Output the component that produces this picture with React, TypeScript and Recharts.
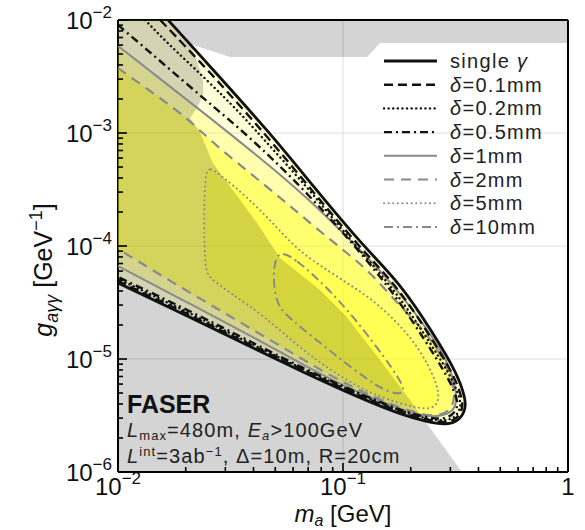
import React from "react";
import { ScatterChart, Scatter, XAxis, YAxis, ReferenceLine } from "recharts";

if (typeof document !== "undefined") document.body.style.margin = "0";

type Pt = [number, number]; // [m_a in GeV, g in GeV^-1]

// contours (open curves run from the top/left edge round the tip back to the left edge)
const singleGamma: Pt[] = [
  [0.0167, 1e-2], [0.027, 3.47e-3], [0.0474, 1.0e-3], [0.0736, 3.4e-4], [0.1227, 1.0e-4],
  [0.1792, 4.71e-5], [0.2512, 1.7e-5], [0.3211, 7.52e-6], [0.3485, 4.61e-6], [0.3521, 3.68e-6],
  [0.3311, 2.88e-6], [0.2899, 2.6e-6], [0.2362, 2.77e-6], [0.1792, 3.26e-6], [0.1318, 4.16e-6],
  [0.097, 5.43e-6], [0.0692, 7.37e-6], [0.0415, 1.2e-5], [0.0209, 2.35e-5], [0.01, 4.71e-5],
];
const delta01: Pt[] = [
  [0.0154, 1e-2], [0.0256, 3.47e-3], [0.0455, 9.6e-4], [0.0713, 3.26e-4], [0.119, 9.6e-5],
  [0.1756, 4.34e-5], [0.2436, 1.6e-5], [0.3114, 7.22e-6], [0.338, 4.52e-6], [0.3415, 3.68e-6],
  [0.3211, 2.94e-6], [0.2869, 2.71e-6], [0.2362, 2.88e-6], [0.1792, 3.4e-6], [0.1318, 4.34e-6],
  [0.097, 5.65e-6], [0.0692, 7.67e-6], [0.0415, 1.25e-5], [0.0209, 2.45e-5], [0.01, 4.9e-5],
];
const delta02: Pt[] = [
  [0.0132, 1e-2], [0.0162, 6.52e-3], [0.0251, 2.89e-3], [0.0349, 1.5e-3], [0.0419, 1.0e-3],
  [0.0713, 3.13e-4], [0.1154, 9.6e-5], [0.1703, 4.08e-5], [0.2362, 1.53e-5], [0.302, 7.07e-6],
  [0.3311, 4.52e-6], [0.3345, 3.68e-6], [0.3146, 3.01e-6], [0.284, 2.83e-6], [0.2362, 2.94e-6],
  [0.1792, 3.47e-6], [0.1318, 4.43e-6], [0.097, 5.77e-6], [0.0692, 7.83e-6], [0.0415, 1.28e-5],
  [0.0209, 2.55e-5], [0.01, 5.11e-5],
];
const delta05: Pt[] = [
  [0.01, 9.03e-3], [0.0135, 5.43e-3], [0.0193, 2.94e-3], [0.027, 1.66e-3], [0.0367, 1.0e-3],
  [0.0644, 3.47e-4], [0.1131, 1.0e-4], [0.1668, 3.92e-5], [0.2314, 1.47e-5], [0.2929, 6.93e-6],
  [0.3211, 4.52e-6], [0.3244, 3.76e-6], [0.3051, 3.13e-6], [0.2754, 2.94e-6], [0.2362, 3.01e-6],
  [0.1792, 3.54e-6], [0.1318, 4.52e-6], [0.097, 5.89e-6], [0.0692, 7.99e-6], [0.0415, 1.33e-5],
  [0.0209, 2.66e-5], [0.01, 5.32e-5],
];
const delta1: Pt[] = [
  [0.01, 5.89e-3], [0.0209, 1.88e-3], [0.0441, 5.77e-4], [0.0713, 2.55e-4], [0.1074, 1.13e-4],
  [0.1461, 6.13e-5], [0.1886, 3.33e-5], [0.2436, 1.7e-5], [0.2929, 9.41e-6], [0.3146, 5.89e-6],
  [0.3211, 4.25e-6], [0.3082, 3.4e-6], [0.2726, 3.13e-6], [0.2362, 3.07e-6], [0.1792, 3.61e-6],
  [0.1318, 4.61e-6], [0.097, 6.01e-6], [0.0692, 8.49e-6], [0.0415, 1.5e-5], [0.0209, 3.07e-5],
  [0.01, 6.65e-5],
];
const delta2: Pt[] = [
  [0.01, 3.76e-3], [0.0139, 2.35e-3], [0.0199, 1.41e-3], [0.0264, 8.16e-4], [0.0386, 4.43e-4],
  [0.0541, 2.55e-4], [0.0664, 1.81e-4], [0.0849, 1.2e-4], [0.1042, 8.67e-5], [0.1318, 5.89e-5],
  [0.1738, 3.13e-5], [0.2362, 1.7e-5], [0.2811, 9.8e-6], [0.3082, 6.26e-6], [0.3146, 4.43e-6],
  [0.2989, 3.47e-6], [0.2698, 3.19e-6], [0.2362, 3.13e-6], [0.1792, 3.68e-6], [0.1318, 4.8e-6],
  [0.097, 6.39e-6], [0.0692, 9.41e-6], [0.0415, 1.73e-5], [0.0209, 3.84e-5], [0.01, 9.41e-5],
];
// closed loops
const delta5: Pt[] = [
  [0.0241, 4.52e-4], [0.0256, 5.0e-4], [0.0293, 4.08e-4], [0.0374, 2.71e-4], [0.0489, 1.6e-4],
  [0.0625, 9.22e-5], [0.0875, 5.89e-5], [0.1131, 4.25e-5], [0.1416, 3.13e-5], [0.1986, 1.63e-5],
  [0.2436, 8.49e-6], [0.2698, 5.0e-6], [0.2617, 3.84e-6], [0.2362, 3.54e-6], [0.1792, 4.0e-6],
  [0.1279, 5.11e-6], [0.0903, 7.67e-6], [0.0644, 1.25e-5], [0.0441, 2.45e-5], [0.0315, 3.84e-5],
  [0.0256, 5.21e-5], [0.0241, 6.13e-5],
];
const delta10: Pt[] = [
  [0.0489, 9.8e-5], [0.0612, 7.83e-5], [0.0875, 4.08e-5], [0.119, 2.0e-5], [0.1537, 1.02e-5],
  [0.1792, 6.52e-6], [0.1886, 5.21e-6], [0.1756, 4.8e-6], [0.1461, 5.54e-6], [0.1279, 6.65e-6],
  [0.097, 1.0e-5], [0.0815, 1.33e-5], [0.0644, 1.92e-5], [0.0582, 2.31e-5], [0.0489, 3.13e-5],
];
// excluded region (grey, drawn see-through over the yellow)
const excluded: Pt[] = [
  [0.01, 1e-2], [1, 1e-2], [1, 6.26e-3], [0.1461, 6.26e-3], [0.1279, 4.71e-3], [0.0315, 4.71e-3],
  [0.0209, 6.13e-3], [0.0224, 4.43e-3], [0.0239, 2.89e-3], [0.0239, 2.17e-3], [0.0224, 1.66e-3],
  [0.0209, 1.36e-3], [0.0231, 1.02e-3], [0.0264, 5.43e-4], [0.0331, 2.94e-4], [0.0415, 1.6e-4],
  [0.0525, 7.83e-5], [0.079, 4.08e-5], [0.1021, 2.45e-5], [0.1461, 9.8e-6], [0.1986, 4.34e-6],
  [0.2436, 2.45e-6], [0.338, 1e-6], [0.01, 1e-6],
];

const xTicks = [
  0.01, 0.02, 0.03, 0.04, 0.05, 0.06, 0.07, 0.08, 0.09,
  0.1, 0.2, 0.3, 0.4, 0.5, 0.6, 0.7, 0.8, 0.9, 1,
];
const yTicks = [
  1e-6, 2e-6, 3e-6, 4e-6, 5e-6, 6e-6, 7e-6, 8e-6, 9e-6,
  1e-5, 2e-5, 3e-5, 4e-5, 5e-5, 6e-5, 7e-5, 8e-5, 9e-5,
  1e-4, 2e-4, 3e-4, 4e-4, 5e-4, 6e-4, 7e-4, 8e-4, 9e-4,
  1e-3, 2e-3, 3e-3, 4e-3, 5e-3, 6e-3, 7e-3, 8e-3, 9e-3, 1e-2,
];
const gridX = [0.1];
const gridY = [1e-3, 1e-4, 1e-5];

const contours = [
  { id: "single", label: "single γ", pts: singleGamma, open: true },
  { id: "d01", label: "δ=0.1mm", pts: delta01, open: true },
  { id: "d02", label: "δ=0.2mm", pts: delta02, open: true },
  { id: "d05", label: "δ=0.5mm", pts: delta05, open: true },
  { id: "d1", label: "δ=1mm", pts: delta1, open: true },
  { id: "d2", label: "δ=2mm", pts: delta2, open: true },
  { id: "d5", label: "δ=5mm", pts: delta5, open: false },
  { id: "d10", label: "δ=10mm", pts: delta10, open: false },
];

const BLACK = "#111";
const GREY = "#8a8a8a";
const lineStyle: Record<string, any> = {
  single: { stroke: BLACK, strokeWidth: 2.8 },
  d01: { stroke: BLACK, strokeWidth: 2.4, strokeDasharray: "9 5" },
  d02: { stroke: BLACK, strokeWidth: 2.4, strokeDasharray: "0.1 4.5", strokeLinecap: "round" },
  d05: { stroke: BLACK, strokeWidth: 2.4, strokeDasharray: "8 4 2 4" },
  d1: { stroke: GREY, strokeWidth: 2 },
  d2: { stroke: GREY, strokeWidth: 2.2, strokeDasharray: "10 7" },
  d5: { stroke: GREY, strokeWidth: 2, strokeDasharray: "0.1 4.5", strokeLinecap: "round" },
  d10: { stroke: GREY, strokeWidth: 2, strokeDasharray: "9 4 2 4" },
};
const fillOpacity: Record<string, number> = { single: 0.15, d1: 0.2, d2: 0.35, d5: 0.25, d10: 0.15 };

const rows = (pts: Pt[]) => pts.map(([x, y]) => ({ x, y }));
const CORNER: Pt = [0.01, 0.01];
// repeat end points so the B-spline passes through them, corner closes the shape
const fillRows = (pts: Pt[]) => {
  const a = pts[0];
  const b = pts[pts.length - 1];
  return rows([CORNER, CORNER, CORNER, a, a, ...pts, b, b]);
};
const noDot = () => <g />;

const isMajor = (v: number) => Math.abs(Math.log10(v) - Math.round(Math.log10(v))) < 1e-6;
const FONT = "'Liberation Sans', Arial, sans-serif";

function XTick(props: any) {
  const { x, y, payload } = props;
  const v = payload.value;
  const major = isMajor(v);
  const e = Math.round(Math.log10(v));
  return (
    <g>
      <line x1={x} x2={x} y1={y} y2={y - (major ? 9 : 5)} stroke="#000" strokeWidth={1.6} />
      {major && (
        <text x={x} y={y + 23} textAnchor="middle" fontSize={24} fill="#111" fontFamily={FONT}>
          {e === 0 ? "1" : "10"}
          {e !== 0 && (
            <tspan fontSize={17} dy={-11}>{`−${Math.abs(e)}`}</tspan>
          )}
        </text>
      )}
    </g>
  );
}

function YTick(props: any) {
  const { x, y, payload } = props;
  const v = payload.value;
  const major = isMajor(v);
  const e = Math.round(Math.log10(v));
  return (
    <g>
      <line x1={x} x2={x + (major ? 9 : 5)} y1={y} y2={y} stroke="#000" strokeWidth={1.6} />
      {major && (
        <text x={x - 6} y={y + 9} textAnchor="end" fontSize={24} fill="#111" fontFamily={FONT}>
          10
          <tspan fontSize={17} dy={-11}>{`−${Math.abs(e)}`}</tspan>
        </text>
      )}
    </g>
  );
}

function Overlay() {
  return (
    <svg
      width={585}
      height={530}
      style={{ position: "absolute", left: 0, top: 0, pointerEvents: "none" }}
      fontFamily={FONT}
      fill="#111"
    >
      {/* axis titles */}
      <text x={343} y={522} textAnchor="middle" fontSize={24}>
        <tspan fontStyle="italic">m</tspan>
        <tspan fontStyle="italic" fontSize={16} dy={4}>a</tspan>
        <tspan dy={-4}>{"\u00a0[GeV]"}</tspan>
      </text>
      <text transform="translate(52,270) rotate(-90)" textAnchor="middle" fontSize={25}>
        <tspan fontStyle="italic">g</tspan>
        <tspan fontStyle="italic" fontSize={18} dy={6}>aγγ</tspan>
        <tspan dy={-6}>{"\u00a0[GeV"}</tspan>
        <tspan fontSize={18} dy={-10}>−1</tspan>
        <tspan dy={10}>]</tspan>
      </text>

      {/* experiment box */}
      <text x={127} y={413} fontSize={25} fontWeight="bold">FASER</text>
      <text x={127} y={437} fontSize={20} letterSpacing={1.1} fill="#222">
        <tspan fontStyle="italic">L</tspan>
        <tspan fontSize={13} dy={3}>max</tspan>
        <tspan dy={-3}>{"=480m,\u00a0"}</tspan>
        <tspan fontStyle="italic">E</tspan>
        <tspan fontStyle="italic" fontSize={13} dy={3}>a</tspan>
        <tspan dy={-3}>{">100GeV"}</tspan>
      </text>
      <text x={127} y={463} fontSize={20} letterSpacing={1.1} fill="#222">
        <tspan fontStyle="italic">L</tspan>
        <tspan fontSize={13} dy={-7}>int</tspan>
        <tspan dy={7}>=3ab</tspan>
        <tspan fontSize={13} dy={-7}>−1</tspan>
        <tspan dy={7}>{",\u00a0Δ=10m,\u00a0R=20cm"}</tspan>
      </text>

      {/* legend */}
      {contours.map((c, i) => {
        const cy = 61 + i * 23.7;
        const s = lineStyle[c.id];
        const isDelta = c.label.startsWith("δ");
        return (
          <g key={c.id}>
            <line x1={384} x2={437} y1={cy} y2={cy} {...s} fill="none" />
            <text x={450} y={cy + 7} fontSize={20} letterSpacing={1.3} fill="#222">
              {isDelta ? (
                <>
                  <tspan fontStyle="italic">δ</tspan>
                  <tspan>{c.label.slice(1)}</tspan>
                </>
              ) : (
                <>
                  <tspan>{"single\u00a0"}</tspan>
                  <tspan fontStyle="italic">γ</tspan>
                </>
              )}
            </text>
          </g>
        );
      })}
    </svg>
  );
}

export default function App() {
  const fills = contours.filter((c) => fillOpacity[c.id] !== undefined);
  const strokes = [...contours].reverse();
  return (
    <div style={{ position: "relative", width: 585, height: 530, background: "#fff" }}>
      <ScatterChart width={585} height={530} margin={{ top: 20, right: 17, bottom: 0, left: 0 }}>
        <XAxis
          dataKey="x"
          type="number"
          scale="log"
          domain={[0.01, 1]}
          allowDataOverflow
          ticks={xTicks}
          interval={0}
          tick={(p: any) => <XTick {...p} />}
          tickLine={false}
          tickSize={0}
          tickMargin={0}
          axisLine={{ stroke: "#000", strokeWidth: 2 }}
          height={58}
        />
        <YAxis
          dataKey="y"
          type="number"
          scale="log"
          domain={[1e-6, 1e-2]}
          allowDataOverflow
          ticks={yTicks}
          interval={0}
          tick={(p: any) => <YTick {...p} />}
          tickLine={false}
          tickSize={0}
          tickMargin={0}
          axisLine={{ stroke: "#000", strokeWidth: 2 }}
          width={118}
        />
        {gridX.map((v) => (
          <ReferenceLine key={`gx${v}`} x={v} stroke="#dedede" strokeWidth={1} />
        ))}
        {gridY.map((v) => (
          <ReferenceLine key={`gy${v}`} y={v} stroke="#dedede" strokeWidth={1} />
        ))}

        {fills.map((c) => (
          <Scatter
            key={`fill-${c.id}`}
            data={c.open ? fillRows(c.pts) : rows(c.pts)}
            shape={noDot}
            isAnimationActive={false}
            legendType="none"
            lineJointType={c.open ? "basis" : "basisClosed"}
            line={{ fill: "#ffff00", fillOpacity: fillOpacity[c.id], stroke: "none" }}
          />
        ))}

        <Scatter
          data={rows(excluded)}
          shape={noDot}
          isAnimationActive={false}
          legendType="none"
          lineJointType="linearClosed"
          line={{ fill: "#000", fillOpacity: 0.17, stroke: "none" }}
        />

        {strokes.map((c) => (
          <Scatter
            key={`line-${c.id}`}
            data={rows(c.pts)}
            shape={noDot}
            isAnimationActive={false}
            legendType="none"
            lineJointType={c.open ? "basis" : "basisClosed"}
            line={{ ...lineStyle[c.id], fill: "none" }}
          />
        ))}

        <ReferenceLine y={0.01} stroke="#000" strokeWidth={2} />
        <ReferenceLine x={1} stroke="#000" strokeWidth={2} />
      </ScatterChart>
      <Overlay />
    </div>
  );
}
